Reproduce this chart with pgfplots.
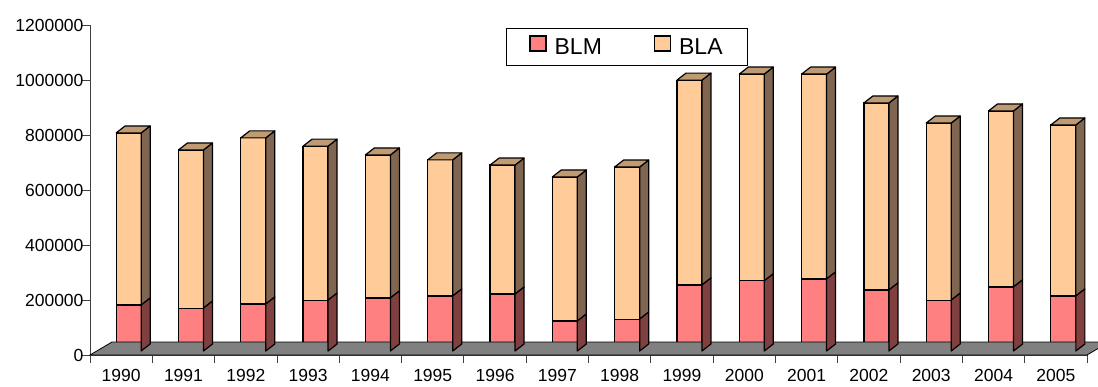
\documentclass[border=0pt]{standalone}
\usepackage{pgfplots}
\pgfplotsset{compat=1.18}
\usepackage{pgfplotstable}
\usepackage{fontspec}
\setmainfont{Liberation Sans}

\definecolor{blmfront}{HTML}{FF8080}
\definecolor{blmside}{HTML}{804040}
\definecolor{blafront}{HTML}{FFCC99}
\definecolor{blaside}{HTML}{806650}
\definecolor{blatop}{HTML}{C09A73}
\definecolor{floorgray}{HTML}{808080}

% depth of the bars (pt) and horizontal offset of the front faces
\def\depx{9}
\def\depy{7}
\def\mshift{7.5}

\pgfplotstableread{
year blm bla
1990 167000 626000
1991 156000 575000
1992 171000 604000
1993 185000 560000
1994 193000 520000
1995 200000 495000
1996 207000 469000
1997 109000 524000
1998 116000 553000
1999 240000 745000
2000 255000 752000
2001 262000 745000
2002 222000 680000
2003 185000 644000
2004 233000 640000
2005 200000 622000
}\landings

% right-hand face of one stacked segment, drawn down from the segment's top
\newcommand\sideface[1]{%
  \pgfkeys{/pgf/fpu=true,/pgf/fpu/output format=fixed}%
  \pgfmathsetmacro\segh{\segval*330/1200000}%
  \pgfkeys{/pgf/fpu=false}%
  \path[draw=black,line width=1.2pt,line join=round,fill=#1]
    (\mshift pt+12.5pt,0pt) -- ++(\depx pt,\depy pt) -- ++(0pt,-\segh pt)
    -- ++(-\depx pt,-\depy pt) -- cycle;}
% lid of the whole bar
\newcommand\topface[1]{%
  \path[draw=black,line width=1.2pt,line join=round,fill=#1]
    (\mshift pt-12.5pt,0pt) -- ++(\depx pt,\depy pt) -- ++(25pt,0pt)
    -- ++(-\depx pt,-\depy pt) -- cycle;}
\pgfdeclareplotmark{box3d blm}{\sideface{blmside}}
\pgfdeclareplotmark{box3d bla}{\sideface{blaside}\topface{blatop}}

\begin{document}
\begin{tikzpicture}[font=\fontsize{17.5}{21}\selectfont]
\begin{axis}[
  at={(0pt,0pt)}, anchor=south west,
  scale only axis, width=997pt, height=330pt,
  xmin=-0.5, xmax=15.5, ymin=0, ymax=1200000,
  clip=false,
  axis x line*=bottom, axis y line*=left,
  axis line style={line width=0.8pt, black!75},
  ybar stacked, bar width=25pt, bar shift=7.5pt,
  xtick={-0.5,0.5,...,15.5}, xticklabels={},
  extra x ticks={0,1,...,15},
  extra x tick labels={1990,1991,1992,1993,1994,1995,1996,1997,1998,1999,2000,2001,2002,2003,2004,2005},
  extra x tick style={major tick length=0pt, tick label style={yshift=-11pt}},
  ytick={0,200000,400000,600000,800000,1000000,1200000},
  scaled y ticks=false,
  yticklabel style={/pgf/number format/fixed,/pgf/number format/1000 sep={},
    /pgf/number format/assume math mode=true, xshift=5pt},
  tick align=outside, major tick length=8pt,
  tick style={black!75, line width=0.8pt},
  legend columns=2,
  legend style={at={(axis description cs:0.4173,0.991)}, anchor=north west,
    draw=black, line width=0.8pt, font=\fontsize{23}{27}\selectfont,
    inner xsep=23pt, inner ysep=7pt,
    /tikz/every odd column/.append style={column sep=6pt},
    /tikz/every even column/.append style={column sep=50pt}},
]
% floor of the chart
\fill[floorgray, draw=black, line width=0.8pt]
  (rel axis cs:0,0) -- (rel axis cs:1,0) -- ++(22pt,13pt)
  -- ([shift={(22pt,13pt)}]rel axis cs:0,0) -- cycle;

\addplot[fill=blmfront, draw=black, line width=1.2pt, bar shift=7.5pt, yshift=4pt,
  mark=box3d blm,
  visualization depends on={rawy \as \segval},
  legend image code/.code={\draw[fill=blmfront,draw=black,line width=1.2pt] (0pt,-7.5pt) rectangle (16pt,7.5pt);}]
  table[x expr=\coordindex, y=blm] {\landings};
\addlegendentry{BLM}
\addplot[fill=blafront, draw=black, line width=1.2pt, bar shift=7.5pt, yshift=4pt,
  mark=box3d bla,
  visualization depends on={rawy \as \segval},
  legend image code/.code={\draw[fill=blafront,draw=black,line width=1.2pt] (0pt,-7.5pt) rectangle (16pt,7.5pt);}]
  table[x expr=\coordindex, y=bla] {\landings};
\addlegendentry{BLA}
\end{axis}
\pgfresetboundingbox
\path[use as bounding box] (-90pt,-31pt) rectangle (1008pt,355pt);
\end{tikzpicture}
\end{document}
